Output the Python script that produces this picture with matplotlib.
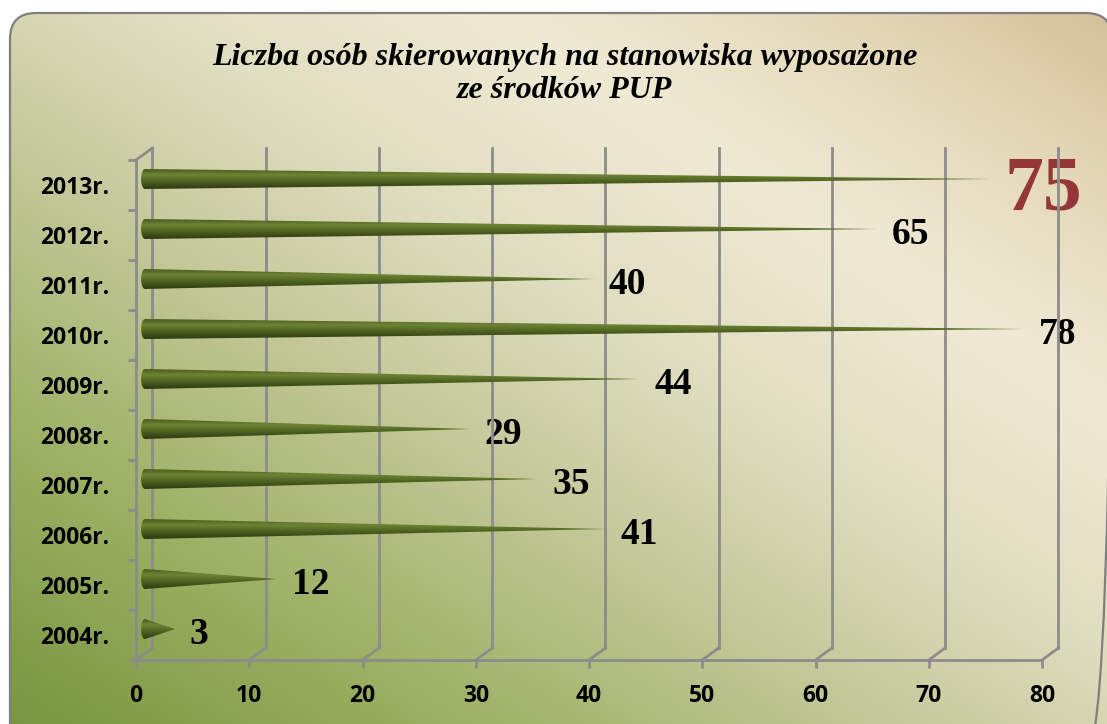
import numpy as np
import matplotlib
matplotlib.use("Agg")
import matplotlib.pyplot as plt
from matplotlib.patches import FancyBboxPatch, Polygon
from matplotlib.colors import LinearSegmentedColormap

# data
years = ["2004r.", "2005r.", "2006r.", "2007r.", "2008r.", "2009r.", "2010r.", "2011r.", "2012r.", "2013r."]
values = [3, 12, 41, 35, 29, 44, 78, 40, 65, 75]
x_ticks = [0, 10, 20, 30, 40, 50, 60, 70, 80]
highlight_year = "2013r."
title = "Liczba osób skierowanych na stanowiska wyposażone\nze środków PUP"

W, H = 1107, 724
fig = plt.figure(figsize=(W / 100, H / 100), dpi=100)
fig.patch.set_facecolor("white")

# background: rounded box with diagonal gradient
bg = fig.add_axes([0, 0, 1, 1])
bg.set_xlim(0, W)
bg.set_ylim(H, 0)
bg.axis("off")
bg_cmap = LinearSegmentedColormap.from_list("bg", [
    (0.0, "#789540"), (0.2, "#9bb062"), (0.4, "#c4c899"), (0.55, "#dfddbf"),
    (0.72, "#f0ead5"), (0.86, "#e4d9b9"), (1.0, "#d3c197")])
uu, vv = np.meshgrid(np.linspace(0, 1, 400), np.linspace(1, 0, 300))
t = (uu + vv) / 2
img = bg.imshow(bg_cmap(t), extent=[0, W, H, 0], aspect="auto", interpolation="bilinear", zorder=0)
box = FancyBboxPatch((10, 13), 1102, 740, boxstyle="round,pad=0,rounding_size=26",
                     fc="none", ec="#7f7f7f", lw=1.6, zorder=1)
bg.add_patch(box)
img.set_clip_path(box)

fig.text(565 / W, 1 - 74 / H, title, ha="center", va="center", fontsize=23,
         family="Liberation Serif", weight="bold", style="italic", linespacing=1.15)

# main axes
ax = fig.add_axes([136 / W, 64 / H, 906 / W, 500 / H])
ax.patch.set_visible(False)
grid_c = "#8c8c8c"

# back wall gridlines (3D-ish offset)
dx, dy = 1.45, 0.24
for xv in x_ticks:
    ax.plot([xv + dx, xv + dx], [-0.5 + dy, 9.5 + dy], color=grid_c, lw=2, zorder=2, clip_on=False)
    ax.plot([xv, xv + dx], [-0.5, -0.5 + dy], color=grid_c, lw=2, zorder=2, clip_on=False)
ax.plot([0, dx], [9.5, 9.5 + dy], color=grid_c, lw=2, zorder=2, clip_on=False)

# cones
cone_cmap = LinearSegmentedColormap.from_list("cone", [
    (0.0, "#2e3b0f"), (0.4, "#4f6322"), (0.72, "#6e8434"), (1.0, "#4a5c1e")])
shade = cone_cmap(np.linspace(0, 1, 64))[:, None, :]
x0, ex, h = 0.45, 0.35, 0.2
for i, (yr, v) in enumerate(zip(years, values)):
    yc = i + 0.12
    th = np.radians(np.linspace(270, 90, 30))
    base = np.column_stack([x0 + ex + ex * np.cos(th), yc + h * np.sin(th)])
    pts = np.vstack([base, [[x0 + v, yc]]])
    poly = Polygon(pts, closed=True, fc="none", ec="none", zorder=3)
    ax.add_patch(poly)
    im = ax.imshow(shade, extent=[x0, x0 + v, yc - h, yc + h], aspect="auto",
                   origin="lower", interpolation="bilinear", zorder=3)
    im.set_clip_path(poly)
    if yr == highlight_year:
        ax.text(x0 + v + 1.2, yc - 0.24, str(v), ha="left", va="center", fontsize=56,
                family="Liberation Serif", weight="bold", color="#953735", zorder=1, clip_on=False)
    else:
        ax.text(x0 + v + 1.3, yc - 0.1, str(v), ha="left", va="center", fontsize=27,
                family="Liberation Serif", weight="bold", color="black", zorder=1, clip_on=False)

ax.set_xlim(0, 80)
ax.set_ylim(-0.5, 9.5)
ax.set_aspect("auto")

for s in ["top", "right"]:
    ax.spines[s].set_visible(False)
for s in ["left", "bottom"]:
    ax.spines[s].set_color(grid_c)
    ax.spines[s].set_linewidth(2)

ax.set_xticks(x_ticks)
ax.set_xticklabels([str(x) for x in x_ticks])
ax.set_yticks(range(len(years)))
ax.set_yticklabels(years)
ax.set_yticks(np.arange(-0.5, 10, 1), minor=True)
ax.tick_params(axis="x", direction="out", length=6, width=2, color=grid_c, pad=11)
ax.tick_params(axis="y", which="major", length=0, pad=19)
ax.tick_params(axis="y", which="minor", direction="out", length=6, width=2, color=grid_c)
for lab in ax.get_xticklabels() + ax.get_yticklabels():
    lab.set_family("Open Sans")
    lab.set_weight("bold")
    lab.set_fontsize(16.5)

fig.savefig("out.png", dpi=100)
